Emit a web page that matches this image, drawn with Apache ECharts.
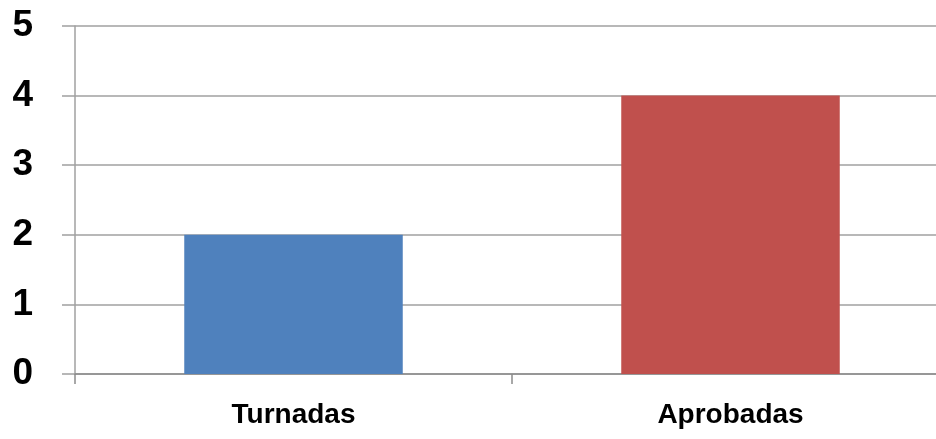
<!DOCTYPE html>
<html><head><meta charset="utf-8">
<script src="https://cdn.jsdelivr.net/npm/echarts@6/dist/echarts.min.js"></script>
<style>html,body{margin:0;padding:0;background:#fff}#c{width:936px;height:439px}</style>
</head><body><div id="c"></div>
<script>
const categories = ['Turnadas', 'Aprobadas'];
const values = [2, 4];
const barColors = ['#4F81BD', '#C0504D'];
const yTicks = [0, 1, 2, 3, 4, 5];

const chart = echarts.init(document.getElementById('c'));
chart.setOption({
  animation: false,
  grid: { left: 75, width: 874, top: 26, bottom: 65, containLabel: false, outerBoundsMode: 'none' },
  xAxis: {
    type: 'category', data: categories,
    axisLine: { show: true, lineStyle: { color: '#8C8C8C', width: 1.5 } },
    axisTick: { show: true, length: 10, lineStyle: { color: '#8C8C8C', width: 1.5 } },
    axisLabel: { margin: 27, color: '#000', fontFamily: 'Liberation Sans', fontWeight: 'bold', fontSize: 28 }
  },
  yAxis: {
    type: 'value', min: yTicks[0], max: yTicks[yTicks.length - 1], interval: 1,
    axisLine: { show: true, lineStyle: { color: '#A0A0A0', width: 1.5 } },
    axisTick: { show: true, length: 13, lineStyle: { color: '#A0A0A0', width: 1.5 } },
    splitLine: { show: true, lineStyle: { color: '#A0A0A0', width: 1.5 } },
    axisLabel: { margin: 42, color: '#000', fontFamily: 'Liberation Sans', fontWeight: 'bold', fontSize: 37 }
  },
  series: [{
    type: 'bar', barWidth: '50%',
    data: values.map((v, i) => ({ value: v, itemStyle: { color: barColors[i] } }))
  }]
});
</script></body></html>
